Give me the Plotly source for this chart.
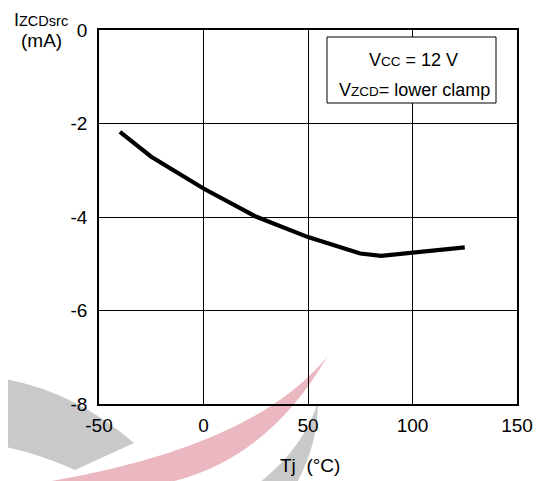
import plotly.graph_objects as go

# ---- data ----
tj_c = [-40, -25, 0, 25, 50, 75, 85, 100, 125]
izcd_ma = [-2.18, -2.71, -3.39, -3.99, -4.43, -4.78, -4.83, -4.76, -4.65]
x_ticks = [-50, 0, 50, 100, 150]
x_labels = ["-50", "0", "50", "100", "150"]
y_ticks = [-8, -6, -4, -2, 0]
y_labels = ["-8", "-6", "-4", "-2", "0"]

# page body has an 8px margin, so the figure is drawn 8px in from the corner
OFF = 8
W, H = 546 - OFF, 481 - OFF
# plot-area edges in screenshot pixels
L, R, T, B = 99, 517, 30, 404


def px(x):
    return (x - L) / (R - L)


def py(y):
    return (B - y) / (B - T)


def pt(x, y):
    return f"{px(x):.4f},{py(y):.4f}"


FONT = "Arial, Liberation Sans, sans-serif"

fig = go.Figure()
fig.add_trace(go.Scatter(x=tj_c, y=izcd_ma, mode="lines",
                         line=dict(color="black", width=4.2),
                         showlegend=False, hoverinfo="skip"))

axis_common = dict(showgrid=True, gridcolor="black", gridwidth=1,
                   showline=True, linecolor="black", linewidth=1.5,
                   mirror=True, zeroline=False, ticks="",
                   tickfont=dict(family=FONT, size=19, color="black"))

fig.update_xaxes(range=[-50, 150], tickvals=x_ticks, ticktext=x_labels,
                 ticklabelstandoff=3, **axis_common)
fig.update_yaxes(range=[-8, 0], tickvals=y_ticks, ticktext=y_labels,
                 ticklabelstandoff=6, **axis_common)

# watermark swooshes (decoration behind the chart)
grey = "rgb(201,201,201)"
red = "rgb(235,184,194)"
shapes = [
    dict(type="path", xref="paper", yref="paper", layer="below",
         path=f"M{pt(0,378)} Q{pt(73,390)} {pt(134,443)} L{pt(75,470)} Q{pt(35,452)} {pt(0,446)} Z",
         fillcolor=grey, line=dict(width=0)),
    dict(type="path", xref="paper", yref="paper", layer="below",
         path=f"M{pt(327,357)} Q{pt(248,453)} {pt(20,486)} L{pt(150,486)} Q{pt(262,469)} {pt(327,357)} Z",
         fillcolor=red, line=dict(width=0)),
    dict(type="path", xref="paper", yref="paper", layer="below",
         path=f"M{pt(318,402)} Q{pt(303,450)} {pt(255,486)} L{pt(295,486)} Q{pt(318,446)} {pt(318,402)} Z",
         fillcolor=grey, line=dict(width=0)),
    # condition box
    dict(type="rect", xref="paper", yref="paper", layer="above",
         x0=px(327), x1=px(496), y0=py(103), y1=py(37),
         fillcolor="white", line=dict(color="black", width=1)),
]

small = "<span style='font-size:13.5px'>{}</span>"
annotations = [
    dict(text="V" + small.format("CC") + " = 12 V", x=px(413), y=py(60)),
    dict(text="V" + small.format("ZCD") + "= lower clamp", x=px(414), y=py(90)),
    dict(text="I" + "<span style='font-size:14.5px'>ZCDsrc</span>", x=px(13), y=py(9),
         xanchor="left", yanchor="top", borderpad=0,
         font=dict(family=FONT, size=18, color="black")),
    dict(text="(mA)", x=px(41), y=py(40),
         font=dict(family=FONT, size=19, color="black")),
    dict(text="Tj\u00a0 (°C)", x=px(310), y=py(465),
         font=dict(family=FONT, size=19, color="black")),
]
for a in annotations:
    a.setdefault("font", dict(family=FONT, size=18, color="black"))
    a.setdefault("xanchor", "center")
    a.setdefault("yanchor", "middle")
    a.update(xref="paper", yref="paper", showarrow=False)

fig.update_layout(width=W, height=H,
                  margin=dict(l=L - OFF, r=(W + OFF) - R, t=T - OFF,
                              b=(H + OFF) - B, pad=0),
                  paper_bgcolor="white", plot_bgcolor="rgba(0,0,0,0)",
                  shapes=shapes, annotations=annotations,
                  font=dict(family=FONT, color="black"))

fig.write_html("out.html")
